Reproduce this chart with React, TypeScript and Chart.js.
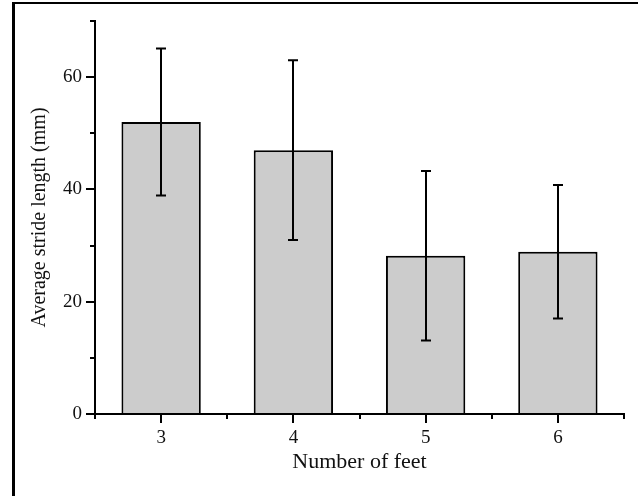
import { useEffect, useRef } from "react";
import { Chart, registerables } from "chart.js";

Chart.register(...registerables);

const categories = ["3", "4", "5", "6"];
const means = [52, 47, 28.2, 28.9];
const errors = [13.1, 16, 15.1, 11.9];
const yMajorTicks = [0, 20, 40, 60];
const yMinorTicks = [10, 30, 50, 70];
const xTitle = "Number of feet";
const yTitle = "Average stride length (mm)";

const FONT = "'Liberation Serif', 'Times New Roman', serif";

const framePlugin = {
  id: "frame",
  beforeDraw(chart: any) {
    const ctx = chart.ctx;
    ctx.save();
    ctx.fillStyle = "#ffffff";
    ctx.fillRect(0, 0, chart.width, chart.height);
    ctx.fillStyle = "#000000";
    ctx.fillRect(12, 2, 3, chart.height - 2);
    ctx.fillRect(12, 2, chart.width - 12, 2);
    ctx.restore();
  },
};

const minorTicksPlugin = {
  id: "minorTicks",
  afterDraw(chart: any) {
    const ctx = chart.ctx;
    const { left, bottom } = chart.chartArea;
    const y = chart.scales.y;
    const x = chart.scales.x;
    ctx.save();
    ctx.strokeStyle = "#000";
    ctx.lineWidth = 2;
    yMinorTicks.forEach((v) => {
      const py = Math.round(y.getPixelForValue(v));
      ctx.beginPath();
      ctx.moveTo(left - 5, py);
      ctx.lineTo(left, py);
      ctx.stroke();
    });
    for (let i = 0; i <= categories.length; i++) {
      const px = Math.round(x.getPixelForValue(i - 0.5));
      ctx.beginPath();
      ctx.moveTo(px, bottom);
      ctx.lineTo(px, bottom + 5);
      ctx.stroke();
    }
    ctx.restore();
  },
};

const errorBarPlugin = {
  id: "errorBars",
  afterDatasetsDraw(chart: any) {
    const ctx = chart.ctx;
    const meta = chart.getDatasetMeta(0);
    const y = chart.scales.y;
    ctx.save();
    ctx.strokeStyle = "#000";
    ctx.lineWidth = 2;
    meta.data.forEach((bar: any, i: number) => {
      const cx = Math.round(bar.x);
      const top = y.getPixelForValue(means[i] + errors[i]);
      const bot = y.getPixelForValue(means[i] - errors[i]);
      ctx.beginPath();
      ctx.moveTo(cx, top);
      ctx.lineTo(cx, bot);
      ctx.moveTo(cx - 5, top);
      ctx.lineTo(cx + 5, top);
      ctx.moveTo(cx - 5, bot);
      ctx.lineTo(cx + 5, bot);
      ctx.stroke();
    });
    ctx.restore();
  },
};

export default function App() {
  const ref = useRef<HTMLCanvasElement | null>(null);

  useEffect(() => {
    if (!ref.current) return;
    const chart = new Chart(ref.current, {
      type: "bar",
      data: {
        labels: categories,
        datasets: [
          {
            data: means,
            backgroundColor: "#cccccc",
            borderColor: "#000000",
            borderWidth: 2,
            categoryPercentage: 0.6,
            barPercentage: 1.0,
          },
        ],
      },
      options: {
        animation: false,
        responsive: false,
        devicePixelRatio: 1,
        layout: { padding: { left: 0, top: 21, right: 14, bottom: 0 } },
        plugins: { legend: { display: false }, tooltip: { enabled: false } },
        scales: {
          x: {
            afterFit(scale: any) {
              scale.height = 82;
            },
            grid: {
              offset: false,
              drawOnChartArea: false,
              drawTicks: true,
              tickLength: 9,
              color: "#000",
              lineWidth: 2,
            },
            border: { display: true, color: "#000", width: 2 },
            ticks: {
              color: "#111",
              padding: 4,
              font: { family: FONT, size: 19 },
            },
            title: {
              display: true,
              text: xTitle,
              color: "#111",
              font: { family: FONT, size: 22 },
              padding: { top: 0, bottom: 21 },
            },
          },
          y: {
            min: 0,
            max: 70,
            afterBuildTicks(scale: any) {
              scale.ticks = yMajorTicks.map((v) => ({ value: v }));
            },
            afterFit(scale: any) {
              scale.width = 95;
            },
            grid: {
              drawOnChartArea: false,
              drawTicks: true,
              tickLength: 9,
              color: "#000",
              lineWidth: 2,
            },
            border: { display: true, color: "#000", width: 2 },
            ticks: {
              color: "#111",
              padding: 4,
              font: { family: FONT, size: 19 },
            },
            title: {
              display: true,
              text: yTitle,
              color: "#111",
              font: { family: FONT, size: 20 },
              padding: { top: 28, bottom: 0 },
            },
          },
        },
      },
      plugins: [framePlugin, minorTicksPlugin, errorBarPlugin],
    });
    return () => chart.destroy();
  }, []);

  return (
    <div style={{ position: "fixed", left: 0, top: 0, width: 638, height: 496 }}>
      <canvas ref={ref} width={638} height={496} style={{ display: "block" }} />
    </div>
  );
}
